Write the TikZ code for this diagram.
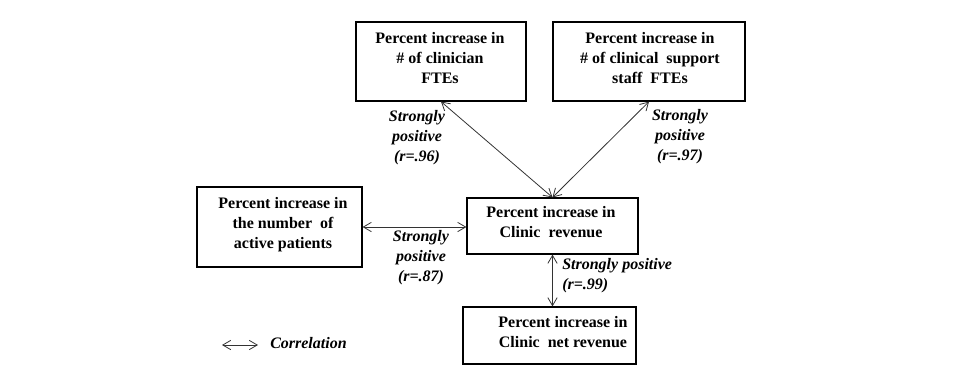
\documentclass[tikz,border=0pt]{standalone}
\usepackage{fontspec}
\setmainfont{Liberation Serif}
\usetikzlibrary{arrows.meta}
\begin{document}
\begin{tikzpicture}[x=0.75pt,y=-0.75pt,
  box/.style={draw=black,line width=0.9pt,minimum width=#1,inner sep=0pt},
  boxtext/.style={font=\bfseries\fontsize{12}{15}\selectfont,align=center,inner sep=0pt},
  corr/.style={font=\bfseries\itshape\fontsize{12}{15}\selectfont,align=center,inner sep=0pt},
  link/.style={draw=black!80,line width=0.6pt,{Straight Barb[length=6pt,width=7pt]}-{Straight Barb[length=6pt,width=7pt]}}]
\useasboundingbox (0,0) rectangle (960,387);
% boxes
\node[box=127.5pt,minimum height=59.25pt] (A) at (441,61.5) {};
\node[box=144pt,minimum height=59.25pt] (B) at (649,61.5) {};
\node[box=123.75pt,minimum height=60pt] (C) at (279.5,227) {};
\node[box=128.25pt,minimum height=42pt] (D) at (552.5,226) {};
\node[box=129.75pt,minimum height=42.75pt] (E) at (549.5,335.5) {};
% box texts
\node[boxtext] (At) at (440,58) {Percent increase in\\\# of clinician\\FTEs};
\node[boxtext] (Bt) at (650,58) {Percent increase in\\\# of clinical\ \ support\\staff\ \ FTEs};
\node[boxtext] (Ct) at (283,225) {Percent increase in\\the number\ \ of\\active patients};
\node[boxtext] (Dt) at (551,222) {Percent increase in\\Clinic\ \ revenue};
\node[boxtext] (Et) at (563,332) {Percent increase in\\Clinic\ \ net revenue};
% connectors
\draw[link] (A.south) -- (D.north);
\draw[link] (B.south) -- (D.north);
\draw[link] (C.east) -- (C.east -| D.west);
\draw[link] (D.south) -- (D.south |- E.north);
% correlation labels
\node[corr] (L1) at (417,138) {Strongly\\positive\\(r=.96)};
\node[corr] (L2) at (680,137) {Strongly\\positive\\(r=.97)};
\node[corr] (L3) at (421,258) {Strongly\\positive\\(r=.87)};
\node[corr,align=left,anchor=west] (L4) at (562,276) {Strongly positive\\(r=.99)};
% legend
\coordinate (g1) at (222,345);
\coordinate (g2) at (258,345);
\draw[link] (g1) -- (g2);
\node[corr,anchor=west] (G) at (270,343) {Correlation};
\end{tikzpicture}
\end{document}
